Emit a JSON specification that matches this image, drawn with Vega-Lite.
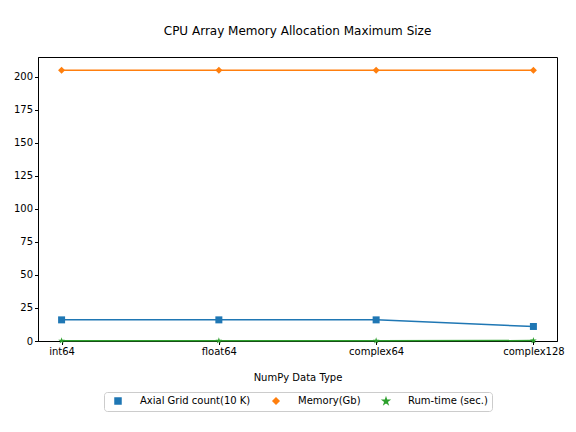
{
  "$schema": "https://vega.github.io/schema/vega-lite/v6.json",
  "width": 519,
  "height": 284,
  "autosize": {"type": "none"},
  "padding": {"left": 38, "top": 57, "right": 19, "bottom": 91},
  "background": "white",
  "config": {
    "font": "DejaVu Sans",
    "view": {"stroke": "black", "strokeWidth": 1},
    "axis": {
      "grid": false,
      "domainColor": "black",
      "tickColor": "black",
      "tickSize": 3.5,
      "labelFontSize": 10,
      "labelColor": "black",
      "titleFontSize": 10,
      "titleFontWeight": "normal",
      "titleColor": "black",
      "labelFont": "DejaVu Sans",
      "titleFont": "DejaVu Sans"
    }
  },
  "title": {
    "text": "CPU Array Memory Allocation Maximum Size",
    "fontSize": 12,
    "fontWeight": "normal",
    "font": "DejaVu Sans",
    "color": "black",
    "offset": 19
  },
  "data": {
    "values": [
      {"type": "int64", "series": "Axial Grid count(10 K)", "value": 16},
      {"type": "float64", "series": "Axial Grid count(10 K)", "value": 16},
      {"type": "complex64", "series": "Axial Grid count(10 K)", "value": 16},
      {"type": "complex128", "series": "Axial Grid count(10 K)", "value": 11},
      {"type": "int64", "series": "Memory(Gb)", "value": 205},
      {"type": "float64", "series": "Memory(Gb)", "value": 205},
      {"type": "complex64", "series": "Memory(Gb)", "value": 205},
      {"type": "complex128", "series": "Memory(Gb)", "value": 205},
      {"type": "int64", "series": "Rum-time (sec.)", "value": 0.2},
      {"type": "float64", "series": "Rum-time (sec.)", "value": 0.2},
      {"type": "complex64", "series": "Rum-time (sec.)", "value": 0.2},
      {"type": "complex128", "series": "Rum-time (sec.)", "value": 0.3}
    ]
  },
  "encoding": {
    "x": {
      "field": "type",
      "type": "ordinal",
      "sort": ["int64", "float64", "complex64", "complex128"],
      "scale": {"type": "point", "padding": 0.15},
      "axis": {"title": "NumPy Data Type", "labelAngle": 0, "labelPadding": 2, "titlePadding": 16}
    },
    "y": {
      "field": "value",
      "type": "quantitative",
      "scale": {"domain": [0, 215], "nice": false, "zero": true},
      "axis": {"title": null, "values": [0, 25, 50, 75, 100, 125, 150, 175, 200], "labelPadding": 2}
    },
    "color": {
      "field": "series",
      "type": "nominal",
      "scale": {
        "domain": ["Axial Grid count(10 K)", "Memory(Gb)", "Rum-time (sec.)"],
        "range": ["#1f77b4", "#ff7f0e", "#2ca02c"]
      },
      "legend": {
        "title": null,
        "orient": "none",
        "legendX": 66,
        "legendY": 335,
        "direction": "horizontal",
        "columns": 3,
        "padding": 4,
        "symbolOffset": 5,
        "symbolSize": 36,
        "labelOffset": 17,
        "columnPadding": 15,
        "labelFontSize": 10,
        "labelColor": "black",
        "labelFont": "DejaVu Sans",
        "strokeColor": "#cccccc",
        "fillColor": "white",
        "cornerRadius": 3
      }
    }
  },
  "layer": [
    {
      "mark": {"type": "line", "strokeWidth": 1.5}
    },
    {
      "mark": {"type": "point", "filled": true, "opacity": 1, "size": 49},
      "encoding": {
        "shape": {
          "field": "series",
          "type": "nominal",
          "scale": {
            "domain": ["Axial Grid count(10 K)", "Memory(Gb)", "Rum-time (sec.)"],
            "range": ["square", "diamond", "M0,-1L0.2245,-0.309L0.951,-0.309L0.363,0.118L0.588,0.809L0,0.382L-0.588,0.809L-0.363,0.118L-0.951,-0.309L-0.2245,-0.309Z"]
          }
        }
      }
    }
  ]
}
